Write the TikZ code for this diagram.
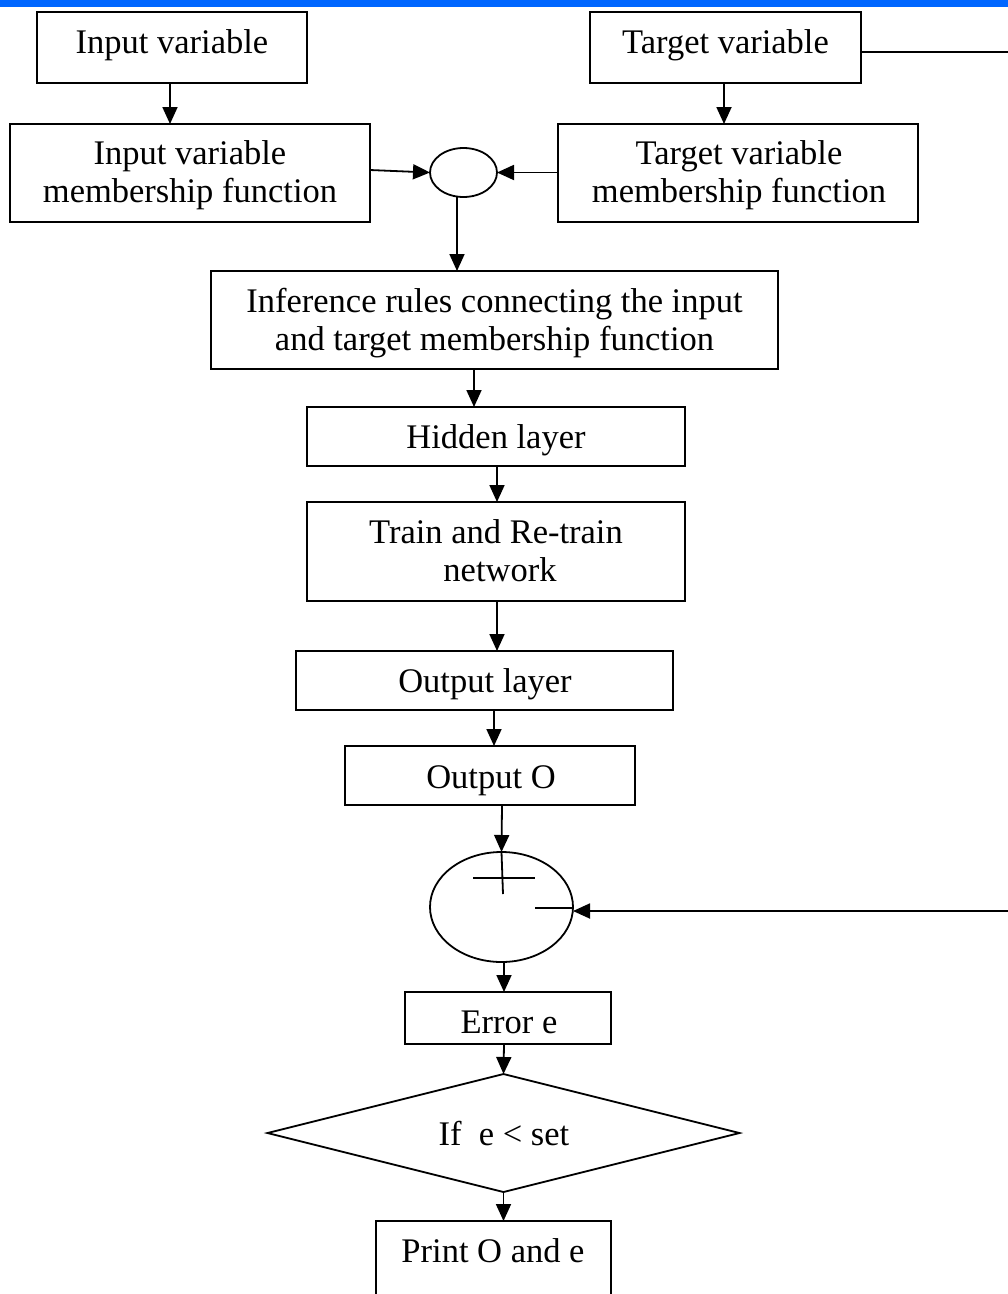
\documentclass[tikz,border=0pt]{standalone}
\usepackage{fontspec}
\setmainfont{Liberation Serif}
\usetikzlibrary{arrows.meta,shapes.geometric,calc}
\definecolor{topbar}{RGB}{0,102,255}
\begin{document}
\begin{tikzpicture}[x=1pt,y=-1pt,
  boxst/.style={draw, line width=1.8pt, rectangle, inner sep=0pt, outer sep=0pt},
  ellst/.style={draw, line width=1.8pt, ellipse, inner sep=0pt, outer sep=0pt},
  txt/.style={font=\fontsize{34.5}{38}\selectfont, inner sep=0pt, anchor=base},
  arr/.style={-{Triangle[length=17pt,width=15pt]}, line width=1.8pt},
  ln/.style={line width=1.8pt}]
\useasboundingbox (0,0) rectangle (1008,1294);
\clip (0,0) rectangle (1008,1294);
\fill[topbar] (0,0) rectangle (1008,7);

% boxes
\node[boxst, minimum width=270, minimum height=71] (b1) at (172,47.5) {};
\node[boxst, minimum width=271, minimum height=71] (b2) at (725.5,47.5) {};
\node[boxst, minimum width=360, minimum height=98] (b3) at (190,173) {};
\node[boxst, minimum width=360, minimum height=98] (b4) at (738,173) {};
\node[ellst, minimum width=67, minimum height=49] (e1) at (463.5,172.5) {};
\node[boxst, minimum width=567, minimum height=98] (inf) at (494.5,320) {};
\node[boxst, minimum width=378, minimum height=59] (hid) at (496,436.5) {};
\node[boxst, minimum width=378, minimum height=99] (trn) at (496,551.5) {};
\node[boxst, minimum width=377, minimum height=59] (ol) at (484.5,680.5) {};
\node[boxst, minimum width=290, minimum height=59] (oo) at (490,775.5) {};
\node[ellst, minimum width=143, minimum height=110] (be) at (501.5,907) {};
\node[boxst, minimum width=206, minimum height=52] (err) at (508,1018) {};
\node[draw, line width=1.8pt, diamond, inner sep=0pt, outer sep=0pt, minimum width=472, minimum height=118] (dia) at (503.5,1133) {};
\node[boxst, minimum width=235, minimum height=99] (prt) at (493.5,1270.5) {};

% texts
\node[txt] (t1) at (172,53) {Input variable};
\node[txt] (t2) at (725.5,53) {Target variable};
\node[txt] (t3a) at (190,164) {Input variable};
\node[txt] (t3b) at (190,202) {membership function};
\node[txt] (t4a) at (739,164) {Target variable};
\node[txt] (t4b) at (739,202) {membership function};
\node[txt] (t5a) at (494.5,312) {Inference rules connecting the input};
\node[txt] (t5b) at (494.5,350) {and target membership function};
\node[txt] (t6) at (496,448) {Hidden layer};
\node[txt] (t7a) at (496,543) {Train and Re-train};
\node[txt] (t7b) at (500,581) {network};
\node[txt] (t8) at (485,692) {Output layer};
\node[txt] (t9) at (491,788) {Output O};
\node[txt] (t10) at (509,1033) {Error e};
\node[txt] (t11) at (504,1145) {If~ e < set};
\node[txt] (t12) at (493,1262) {Print O and e};

% connectors
\draw[arr] (170,0 |- b1.south) -- (170,0 |- b3.north);
\draw[arr] (724,0 |- b2.south) -- (724,0 |- b4.north);
\draw[arr] (b3.east |- 0,170) -- (e1.west);
\draw[arr] (b4.west |- 0,172.5) -- (e1.east);
\draw[arr] (457,0 |- e1.south) -- (457,0 |- inf.north);
\draw[arr] (474,0 |- inf.south) -- (474,0 |- hid.north);
\draw[arr] (497,0 |- hid.south) -- (497,0 |- trn.north);
\draw[arr] (497,0 |- trn.south) -- (497,0 |- ol.north);
\draw[arr] (494,0 |- ol.south) -- (494,0 |- oo.north);
\draw[arr] (502,0 |- oo.south) -- (be.north);
\draw[ln] (be.north) -- (503,894);
\draw[ln] (473,878) -- (535,878);
\draw[ln] (535,908) -- (be.east |- 0,908);
\coordinate (fbtop) at (1008,52);
\coordinate (fbbot) at (1008,911);
\draw[ln] (b2.east |- fbtop) -- (fbtop);
\draw[arr] (fbbot) -- (be.east |- fbbot);
\draw[arr] (504,0 |- be.south) -- (504,0 |- err.north);
\draw[arr] (504,0 |- err.south) -- (dia.north);
\draw[arr] (dia.south) -- (dia.south |- prt.north);
\end{tikzpicture}
\end{document}
